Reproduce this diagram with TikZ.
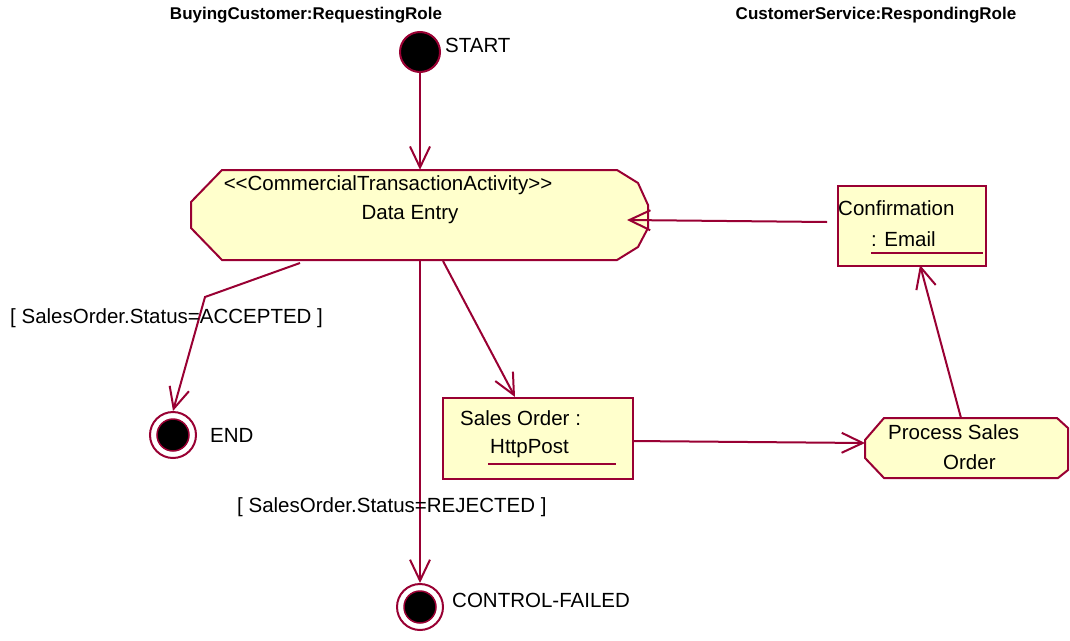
\documentclass[tikz,border=0pt]{standalone}
\usepackage{fontspec}
\setmainfont{Liberation Sans}
\usetikzlibrary{arrows.meta}
\definecolor{mar}{HTML}{990033}
\definecolor{fillY}{HTML}{FFFFCC}
\tikzset{
  txt/.style={font=\fontsize{20.5}{24}\selectfont, inner sep=0pt, text=black},
  ttl/.style={font=\bfseries\fontsize{17}{20}\selectfont, inner sep=0pt, text=black},
  conn/.style={draw=mar, line width=2pt, -{Straight Barb[length=21pt,width=20pt,line width=2pt]}},
  shp/.style={draw=mar, fill=fillY, line width=2pt},
  startc/.style={circle, draw=mar, fill=black, line width=2pt, minimum size=40pt, inner sep=0pt},
  endouter/.style={circle, draw=mar, fill=white, line width=2pt, minimum size=46pt, inner sep=0pt},
  endinner/.style={circle, draw=mar, fill=black, line width=1.5pt, minimum size=32pt, inner sep=0pt},
  anch/.style={rectangle, inner sep=0pt, draw=none},
  uline/.style={draw=mar, line width=2pt}
}
\begin{document}
\begin{tikzpicture}[x=1pt,y=-1pt]
\useasboundingbox (0,0) rectangle (1070,640);
% titles
\node[ttl] (t1) at (306,15) {BuyingCustomer:RequestingRole};
\node[ttl] (t2) at (876,15) {CustomerService:RespondingRole};
% start
\node[startc] (start) at (420,52) {};
\node[txt, anchor=west] (startl) at (445,45) {START};
% data entry
\draw[shp] (222,170) -- (617,170) -- (638,183) -- (648,205) -- (648,228) -- (638,247) -- (617,260) -- (222,260) -- (191,228) -- (191,202) -- cycle;
\node[anch, minimum width=457pt, minimum height=90pt] (de) at (419.5,215) {};
\node[txt] (de1) at (388,185) {{<}{<}CommercialTransactionActivity{>}{>}};
\node[txt] (de2) at (410,215) {Data Entry};
% confirmation
\node[shp, anch, draw=mar, minimum width=148pt, minimum height=80pt, anchor=north west] (conf) at (837,185) {};
\node[txt, anchor=west] (conf1) at (838,208) {Confirmation};
\node[txt, anchor=west] (conf2) at (871,239) {: Email};
\draw[uline] (871,253) -- (983,253);
% sales order
\node[shp, anch, draw=mar, minimum width=190pt, minimum height=81pt, anchor=north west] (so) at (442,397) {};
\node[txt, anchor=west] (so1) at (460,418) {Sales Order :};
\node[txt, anchor=west] (so2) at (490,449) {HttpPost};
\draw[uline] (488,464) -- (616,464);
% process sales order
\draw[shp] (884,418) -- (1057,418) -- (1068,428) -- (1068,470) -- (1058,478) -- (884,478) -- (865,458) -- (865,440) -- cycle;
\node[anch, minimum width=203pt, minimum height=60pt] (pso) at (966.5,448) {};
\node[txt, anchor=west] (pso1) at (888,432) {Process Sales};
\node[txt, anchor=west] (pso2) at (943,462) {Order};
% end states
\node[endouter] (endo) at (173,435) {};
\node[endinner] (endi) at (endo.center) {};
\node[txt, anchor=west] (endl) at (210,435) {END};
\node[endouter] (cfo) at (420,607) {};
\node[endinner] (cfi) at (cfo.center) {};
\node[txt, anchor=west] (cfl) at (452,600) {CONTROL-FAILED};
% connectors
\coordinate (deA) at (300,263);
\coordinate (bend) at (205,297);
\coordinate (deB) at (420,261);
\coordinate (deC) at (443,261);
\coordinate (soT) at (515,397);
\coordinate (soR) at (632,441);
\coordinate (psoL) at (865,443);
\coordinate (psoT) at (961,418);
\coordinate (confB) at (920,265);
\coordinate (confL) at (827,222);
\coordinate (deR) at (627,220);
\draw[conn] (start.south) -- (start.south |- de.north);
\draw[conn] (deA) -- (bend) -- (endo.north);
\draw[conn] (deB) -- (cfo.north);
\draw[conn] (deC) -- (soT);
\draw[conn] (soR) -- (psoL);
\draw[conn] (psoT) -- (confB);
\draw[conn] (confL) -- (deR);
\node[txt, anchor=west] (accl) at (10,318) {[ SalesOrder.Status=ACCEPTED ]};
\node[txt, anchor=west] (rejl) at (237,507) {[ SalesOrder.Status=REJECTED ]};
\end{tikzpicture}
\end{document}
